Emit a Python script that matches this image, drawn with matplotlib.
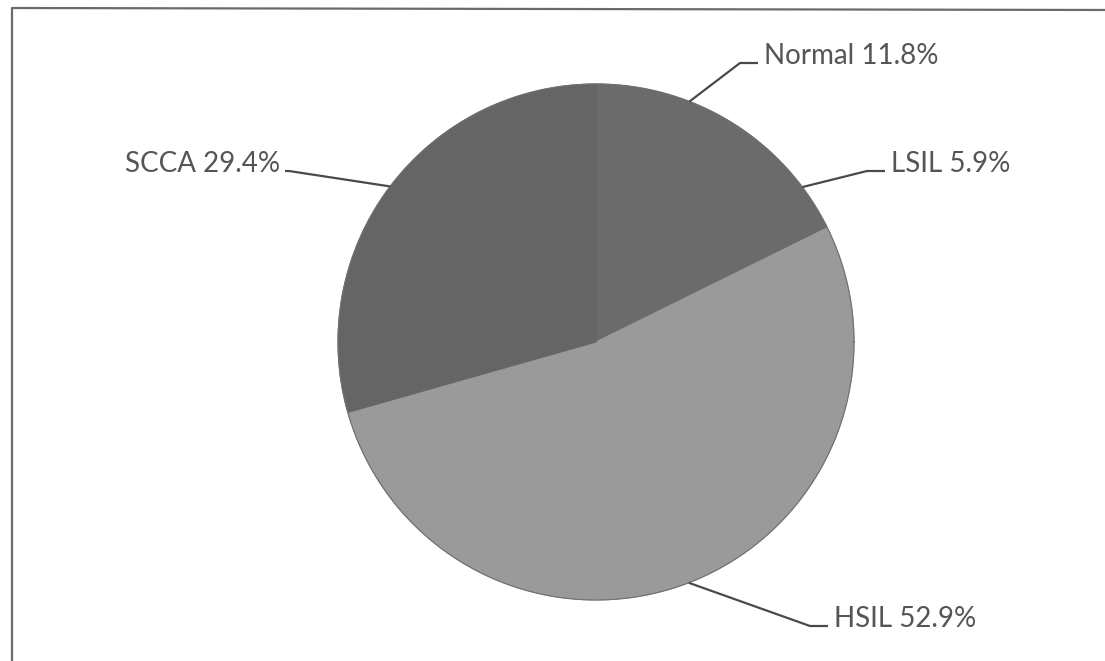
"""Pie chart of cytology results (Normal / LSIL / HSIL / SCCA)."""
import numpy as np
import matplotlib
matplotlib.use("Agg")
import matplotlib.pyplot as plt

# data
categories = ["Normal", "LSIL", "HSIL", "SCCA"]
percents = [11.8, 5.9, 52.9, 29.4]
slice_colors = ["#6b6b6b", "#6b6b6b", "#9a9a9a", "#656565"]

# layout (pixel coords, y measured from top)
W, H = 1105, 661
CENTER = (596, 342)
RADIUS = 258
# elbow of each leader line and which side the text sits on
elbows = [(740, 63), (867, 171), (810, 626), (289, 171)]
sides = ["right", "right", "right", "left"]
TAIL = 18
TEXT_COLOR = "#555555"
LINE_COLOR = "#4a4a4a"

plt.rcParams["font.family"] = ["Lato", "DejaVu Sans"]


def flip(y):
    return H - y


fig = plt.figure(figsize=(W / 100, H / 100), dpi=100)
ax = fig.add_axes([0, 0, 1, 1])

wedges, _ = ax.pie(percents, colors=slice_colors, startangle=90, counterclock=False,
                   center=(CENTER[0], flip(CENTER[1])), radius=RADIUS,
                   wedgeprops={"linewidth": 0.8})
for w in wedges:
    # edge in the face colour hides the antialiasing seams between slices
    w.set_edgecolor(w.get_facecolor())
ax.set_xlim(0, W)
ax.set_ylim(0, H)
ax.set_aspect("equal")
ax.axis("off")

# faint outline round the whole pie
theta = np.linspace(0, 2 * np.pi, 400)
ax.plot(CENTER[0] + RADIUS * np.cos(theta), flip(CENTER[1]) + RADIUS * np.sin(theta),
        color="#707070", lw=0.8)

# chart border (only left and top edges are in the crop)
ax.plot([12, 12, W + 5], [-5, flip(8), flip(10)], color="#6a6a6a", lw=1.6)

for w, name, pct, (ex, ey), side in zip(wedges, categories, percents, elbows, sides):
    mid = np.deg2rad((w.theta1 + w.theta2) / 2)
    sx = CENTER[0] + RADIUS * np.cos(mid)
    sy = flip(CENTER[1]) + RADIUS * np.sin(mid)
    tail_end = ex + TAIL if side == "right" else ex - 4
    ax.plot([sx, ex, tail_end], [sy, flip(ey), flip(ey)], color=LINE_COLOR, lw=1.6,
            solid_capstyle="butt")
    if side == "right":
        ax.text(ex + TAIL + 6, flip(ey) - 1, f"{name} {pct}%", ha="left", va="baseline",
                fontsize=20, color=TEXT_COLOR)
    else:
        ax.text(ex - 9, flip(ey) - 1, f"{name} {pct}%", ha="right", va="baseline",
                fontsize=20, color=TEXT_COLOR)

fig.savefig("out.png", dpi=100)
